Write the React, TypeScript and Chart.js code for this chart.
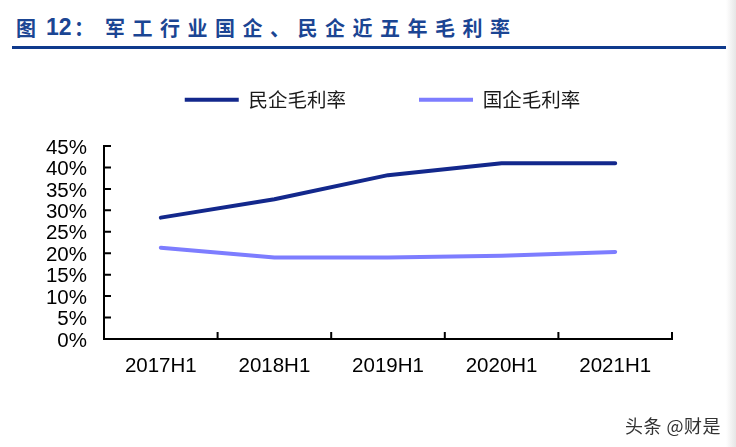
import React, { useEffect, useRef } from "react";
import { Chart, registerables } from "chart.js";

Chart.register(...registerables);

const categories = ["2017H1", "2018H1", "2019H1", "2020H1", "2021H1"];
const privateMargin = [28.3, 32.6, 38.2, 41.0, 41.0];
const stateMargin = [21.3, 19.0, 19.0, 19.4, 20.3];
const seriesNames = ["民企毛利率", "国企毛利率"];
const yTickMax = 45;
const yTickStep = 5;

const DARK = "#13288c";
const LIGHT = "#7d7dff";

const innerTicks = {
  id: "innerTicks",
  afterDraw(chart: any) {
    const { ctx } = chart;
    const xs = chart.scales.x;
    const ys = chart.scales.y;
    ctx.save();
    ctx.strokeStyle = "#000";
    ctx.lineWidth = 2;
    ctx.beginPath();
    ys.ticks.forEach((_t: any, i: number) => {
      const y = ys.getPixelForTick(i);
      ctx.moveTo(xs.left, y);
      ctx.lineTo(xs.left + 7, y);
    });
    for (let i = 0; i < categories.length; i++) {
      const x = xs.getPixelForValue(i + 0.5);
      ctx.moveTo(x, ys.bottom);
      ctx.lineTo(x, ys.bottom - 7);
    }
    ctx.stroke();
    ctx.restore();
  },
};

// the legend in the reference sits a little right of the page centre
const legendShift = {
  id: "legendShift",
  afterLayout(chart: any) {
    const lg = chart.legend;
    if (!lg) return;
    lg.left += 31.5;
    lg.right += 31.5;
  },
};

export default function App() {
  const ref = useRef<HTMLCanvasElement | null>(null);

  useEffect(() => {
    if (!ref.current) return;
    const chart = new Chart(ref.current, {
      type: "line",
      data: {
        labels: categories,
        datasets: [
          {
            label: seriesNames[0],
            data: privateMargin,
            borderColor: DARK,
            backgroundColor: DARK,
            borderWidth: 4,
            pointRadius: 0,
            tension: 0,
            borderCapStyle: "round",
            borderJoinStyle: "round",
          },
          {
            label: seriesNames[1],
            data: stateMargin,
            borderColor: LIGHT,
            backgroundColor: LIGHT,
            borderWidth: 4,
            pointRadius: 0,
            tension: 0,
            borderCapStyle: "round",
            borderJoinStyle: "round",
          },
        ],
      },
      options: {
        responsive: false,
        animation: false,
        devicePixelRatio: 1,
        layout: { padding: { left: 30, right: 64, top: 17, bottom: 0 } },
        plugins: {
          tooltip: { enabled: false },
          legend: {
            position: "top",
            labels: {
              boxWidth: 54,
              boxHeight: 4,
              padding: 73,
              color: "#1a1a1a",
              font: { family: "'Noto Sans CJK SC', sans-serif", size: 19.5 },
              generateLabels(c: any) {
                const items = Chart.defaults.plugins.legend.labels.generateLabels(c);
                return items.map((it: any) => ({ ...it, lineWidth: 0 }));
              },
            },
          },
          title: {
            display: true,
            text: "",
            position: "top",
            weight: 500,
            font: { size: 10, lineHeight: 1 },
            padding: { top: 0, bottom: 16.5 },
          },
        },
        scales: {
          x: {
            type: "category",
            offset: true,
            grid: { display: false, drawTicks: false },
            border: { display: true, color: "#000", width: 2 },
            ticks: {
              color: "#000",
              padding: 15,
              maxRotation: 0,
              font: { family: "'Liberation Sans', Arial, sans-serif", size: 20.5 },
            },
            afterFit(scale: any) {
              scale.height = 108;
            },
          },
          y: {
            min: 0,
            max: yTickMax,
            grid: { display: false, drawTicks: false },
            border: { display: true, color: "#000", width: 2 },
            ticks: {
              stepSize: yTickStep,
              autoSkip: false,
              color: "#000",
              padding: 17,
              labelOffset: 2,
              font: { family: "'Liberation Sans', Arial, sans-serif", size: 20.5 },
              callback: (v: any) => v + "%",
            },
            afterFit(scale: any) {
              scale.width = 74;
            },
          },
        },
      },
      plugins: [innerTicks, legendShift],
    });
    return () => chart.destroy();
  }, []);

  const cjk = "'Noto Sans CJK SC', sans-serif";
  const titleColor = "#1b4593";
  const titleCjk: React.CSSProperties = {
    position: "absolute",
    top: 17,
    fontFamily: cjk,
    fontWeight: 700,
    fontSize: 20,
    lineHeight: "20px",
    color: titleColor,
    whiteSpace: "nowrap",
    transform: "scaleY(1.04)",
    transformOrigin: "0 0",
  };

  return (
    <div
      style={{
        position: "absolute",
        left: 0,
        top: 0,
        width: 736,
        height: 447,
        background: "#fff",
        overflow: "hidden",
      }}
    >
      <span style={{ ...titleCjk, left: 16 }}>图</span>
      <span
        style={{
          position: "absolute",
          left: 46,
          top: 16,
          fontFamily: "'Liberation Sans', Arial, sans-serif",
          fontWeight: 700,
          fontSize: 23,
          lineHeight: "23px",
          color: titleColor,
        }}
      >
        12
      </span>
      <span style={{ ...titleCjk, left: 74 }}>：</span>
      <span style={{ ...titleCjk, left: 105, letterSpacing: 7.5 }}>
        军工行业国企、民企近五年毛利率
      </span>
      <div
        style={{
          position: "absolute",
          left: 12,
          top: 46,
          width: 714,
          height: 3,
          background: "#0f3a8c",
        }}
      />
      <canvas
        ref={ref}
        width={736}
        height={447}
        style={{ position: "absolute", left: 0, top: 0 }}
      />
      <div
        style={{
          position: "absolute",
          left: 625,
          top: 415,
          fontFamily: cjk,
          fontSize: 18,
          lineHeight: "20px",
          letterSpacing: 0.5,
          color: "#333",
          whiteSpace: "nowrap",
          textShadow: "0 0 2px #fff",
        }}
      >
        头条 @财是
      </div>
      <div
        style={{
          position: "absolute",
          left: 726,
          top: 0,
          width: 10,
          height: 447,
          background: "linear-gradient(to right, #ffffff, #e6e6e6)",
        }}
      />
    </div>
  );
}
